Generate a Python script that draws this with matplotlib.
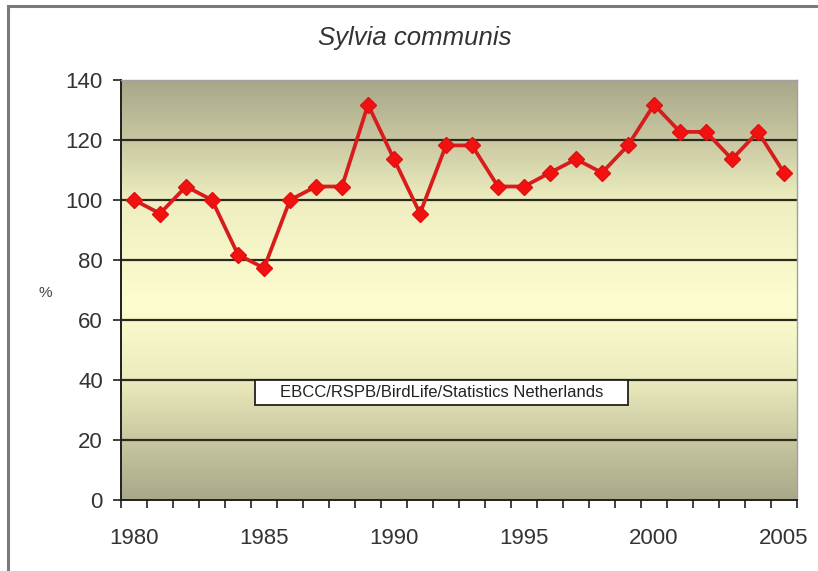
import matplotlib
matplotlib.use("Agg")
import matplotlib.pyplot as plt
import numpy as np
from matplotlib.colors import LinearSegmentedColormap
from matplotlib.patches import Rectangle

plt.rcParams['font.family'] = ['Liberation Sans', 'DejaVu Sans']

# Index of the whitethroat population (1980 = 100)
years = list(range(1980, 2006))
index = [100.0, 95.5, 104.5, 100.0, 81.8, 77.3, 100.0, 104.5, 104.5, 131.8,
         113.6, 95.5, 118.2, 118.2, 104.5, 104.5, 109.1, 113.6, 109.1, 118.2,
         131.8, 122.7, 122.7, 113.6, 122.7, 109.1]
year_labels = ["1980", "1985", "1990", "1995", "2000", "2005"]
y_ticks = [0, 20, 40, 60, 80, 100, 120, 140]

fig = plt.figure(figsize=(8.18, 5.71), dpi=100)
fig.patch.set_facecolor("white")
ax = fig.add_axes([121/818, 1 - 500/571, (797 - 121)/818, (500 - 80)/571])

x = np.arange(len(years))

# background: olive at top and bottom, pale yellow in the middle
stops = [(0.0, "#a9a88a"), (20/140, "#c9c8a1"), (40/140, "#ebebbd"),
         (65/140, "#fdfdd0"), (100/140, "#eeeec0"), (120/140, "#c9c8a2"),
         (1.0, "#a8a789")]
cmap = LinearSegmentedColormap.from_list("bg", stops)
grad = np.linspace(0, 1, 400).reshape(-1, 1)
ax.imshow(grad, cmap=cmap, aspect="auto", origin="lower",
          extent=(-0.5, len(years) - 0.5, 0, 140), zorder=0)

# horizontal grid lines
for v in y_ticks[1:-1]:
    ax.axhline(v, color="#2a2a1e", lw=1.6, zorder=1)

ax.plot(x, index, color="#d81c1c", lw=2.7, marker="D", markersize=8,
        markerfacecolor="#f21010", markeredgecolor="#e01010", zorder=3)

ax.set_xlim(-0.5, len(years) - 0.5)
ax.set_ylim(0, 140)

ax.set_yticks(y_ticks)
ax.tick_params(axis="y", length=6, width=1.2, color="#202020", pad=7,
               labelsize=16, labelcolor="#333333")

# category axis: ticks between years, labels every five years
ax.set_xticks(np.arange(-0.5, len(years)), labels=[""] * (len(years) + 1))
ax.tick_params(axis="x", which="major", length=6, width=1.2, color="#202020")
ax.set_xticks([years.index(int(s)) for s in year_labels], labels=year_labels, minor=True)
ax.tick_params(axis="x", which="minor", length=0, pad=20, labelsize=16,
               labelcolor="#333333")

for side in ("left", "bottom"):
    ax.spines[side].set_color("#202020")
    ax.spines[side].set_linewidth(1.4)
for side in ("top", "right"):
    ax.spines[side].set_color("#a0a0a0")
    ax.spines[side].set_linewidth(1.0)

# source box
ax.add_patch(Rectangle((4.65, 31.7), 14.35, 8.3, facecolor="white",
                       edgecolor="#202020", lw=1.3, zorder=4))
ax.text(11.82, 35.85, "EBCC/RSPB/BirdLife/Statistics Netherlands",
        ha="center", va="center", fontsize=12, color="#222222", zorder=5)

fig.text(415/818, 1 - 38/571, "Sylvia communis", ha="center", va="center",
         fontsize=18.5, style="italic", color="#333333")
fig.text(45/818, 1 - 293/571, "%", ha="center", va="center",
         fontsize=11, color="#444444")

# outer frame of the chart
fig.add_artist(Rectangle((8/818, -0.05), 1.1, 1 - 6/571 + 0.05,
                         transform=fig.transFigure, fill=False,
                         edgecolor="#7a7a7a", lw=2.2))

fig.savefig("out.png", dpi=100, facecolor="white")
